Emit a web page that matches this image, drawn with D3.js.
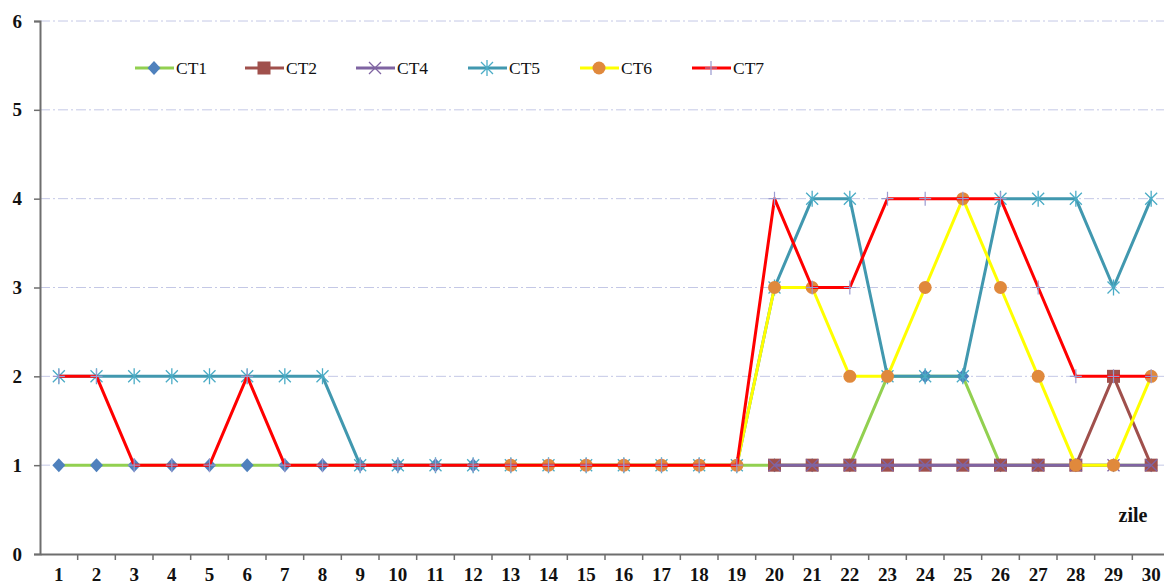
<!DOCTYPE html>
<html lang="en">
  <head>
    <title>CT chart</title>
    <meta charset="UTF-8">
    <script src="https://d3js.org/d3.v7.min.js"></script>
    <style>
      * { margin: 0; padding: 0; }
      body { background: white; }
      svg { display: block; }
      text { font-family: 'Liberation Serif', 'Times New Roman', serif; }
    </style>
  </head>
  <body>
    <script>
      const days = d3.range(1, 31)
      const yTicks = [0, 1, 2, 3, 4, 5, 6]

      // null = no value for that day
      const ct1 = [1,1,1,1,1,1,1,1,1,1,1,1,1,1,1,1,1,1,1,1,1,1,2,2,2,1,1,1,1,1]
      const ct2 = [null,null,null,null,null,null,null,null,null,null,null,null,null,null,null,null,null,null,null,1,1,1,1,1,1,1,1,1,2,1]
      const ct4 = [null,null,null,null,null,null,null,null,null,null,null,null,null,null,null,null,null,null,null,1,1,1,1,1,1,1,1,1,1,1]
      const ct5 = [2,2,2,2,2,2,2,2,1,1,1,1,1,1,1,1,1,1,1,3,4,4,2,2,2,4,4,4,3,4]
      const ct6 = [null,null,null,null,null,null,null,null,null,null,null,null,1,1,1,1,1,1,1,3,3,2,2,3,4,3,2,1,1,2]
      const ct7 = [2,2,1,1,1,2,1,1,1,1,1,1,1,1,1,1,1,1,1,4,3,3,4,4,4,4,3,2,2,2]

      const series = [
        {name: 'CT1', values: ct1, line: '#92d050', marker: 'diamond', fill: '#4f81bd'},
        {name: 'CT2', values: ct2, line: '#a0504c', marker: 'square', fill: '#a0504c'},
        {name: 'CT4', values: ct4, line: '#7f64a2', marker: 'cross', fill: '#7f64a2'},
        {name: 'CT5', values: ct5, line: '#4198af', marker: 'star', fill: '#4bacc6'},
        {name: 'CT6', values: ct6, line: '#ffff00', marker: 'circle', fill: '#e0893c'},
        {name: 'CT7', values: ct7, line: '#ff0000', marker: 'plus', fill: '#9a9ad0'}
      ]

      const width = 1164
      const height = 587
      const plotLeft = 40
      const plotRight = 1170
      const plotTop = 21
      const plotBottom = 554

      const xScale = d3.scaleBand().domain(days).range([plotLeft, plotRight])
      const yScale = d3.scaleLinear().domain([0, 6]).range([plotBottom, plotTop])
      const cx = (d) => xScale(d) + xScale.bandwidth() / 2

      const svg = d3.select('body')
                    .append('svg')
                    .attr('width', width)
                    .attr('height', height)

      // gridlines
      svg.append('g')
         .selectAll('line')
         .data(yTicks.filter((t) => t > 0))
         .enter()
         .append('line')
         .attr('x1', plotLeft)
         .attr('x2', plotRight)
         .attr('y1', (d) => yScale(d))
         .attr('y2', (d) => yScale(d))
         .attr('stroke', '#c4c8e6')
         .attr('stroke-width', 1)
         .attr('stroke-dasharray', '10,3,2,3')

      // axes
      const yAxis = d3.axisLeft(yScale).tickValues(yTicks).tickSize(6).tickFormat(d3.format('d'))
      const yg = svg.append('g')
                    .attr('transform', 'translate(' + plotLeft + ',0)')
                    .call(yAxis)
      yg.attr('font-family', null)
      yg.select('.domain').attr('stroke', '#6e6e6e').attr('stroke-width', 2)
      yg.selectAll('.tick line').attr('stroke', '#6e6e6e').attr('stroke-width', 1.5)
      yg.selectAll('.tick text')
        .attr('x', -18)
        .attr('font-size', 19)
        .attr('font-weight', 'bold')
        .attr('fill', '#111')

      const xAxis = d3.axisBottom(xScale).tickSize(0).tickPadding(14)
      const xg = svg.append('g')
                    .attr('transform', 'translate(0,' + plotBottom + ')')
                    .call(xAxis)
      xg.attr('font-family', null)
      xg.select('.domain').attr('stroke', '#6e6e6e').attr('stroke-width', 2)
      xg.selectAll('.tick text')
        .attr('font-size', 19)
        .attr('font-weight', 'bold')
        .attr('fill', '#111')
      // tick marks between categories
      xg.append('g')
        .selectAll('line')
        .data(days)
        .enter()
        .append('line')
        .attr('x1', (d) => xScale(d) + xScale.bandwidth())
        .attr('x2', (d) => xScale(d) + xScale.bandwidth())
        .attr('y1', 0)
        .attr('y2', 6)
        .attr('stroke', '#6e6e6e')
        .attr('stroke-width', 1.5)

      svg.append('text')
         .text('zile')
         .attr('x', 1133)
         .attr('y', 522)
         .attr('text-anchor', 'middle')
         .attr('font-size', 20)
         .attr('font-weight', 'bold')
         .attr('fill', '#111')

      function drawMarker(g, s, x, y) {
        if (s.marker === 'diamond') {
          g.append('path').attr('d', `M${x},${y-7}L${x+6.5},${y}L${x},${y+7}L${x-6.5},${y}Z`).attr('fill', s.fill)
        } else if (s.marker === 'square') {
          g.append('rect').attr('x', x-6.5).attr('y', y-6.5).attr('width', 13).attr('height', 13).attr('fill', s.fill)
        } else if (s.marker === 'circle') {
          g.append('circle').attr('cx', x).attr('cy', y).attr('r', 6.5).attr('fill', s.fill)
        } else if (s.marker === 'cross') {
          g.append('path').attr('d', `M${x-6},${y-6}L${x+6},${y+6}M${x-6},${y+6}L${x+6},${y-6}`)
           .attr('stroke', s.fill).attr('stroke-width', 1.3).attr('fill', 'none')
        } else if (s.marker === 'star') {
          g.append('path').attr('d', `M${x-6},${y-6}L${x+6},${y+6}M${x-6},${y+6}L${x+6},${y-6}M${x},${y-8}L${x},${y+8}`)
           .attr('stroke', s.fill).attr('stroke-width', 1.3).attr('fill', 'none')
        } else if (s.marker === 'plus') {
          g.append('path').attr('d', `M${x-6},${y}L${x+6},${y}M${x},${y-7}L${x},${y+7}`)
           .attr('stroke', s.fill).attr('stroke-width', 1.2).attr('fill', 'none')
        }
      }

      const line = d3.line()
                     .defined((d) => d.v !== null)
                     .x((d) => cx(d.day))
                     .y((d) => yScale(d.v))

      series.forEach((s) => {
        const pts = days.map((day, i) => ({day: day, v: s.values[i]}))
        const g = svg.append('g')
        g.append('path')
         .datum(pts)
         .attr('d', line)
         .attr('fill', 'none')
         .attr('stroke', s.line)
         .attr('stroke-width', 3)
         .attr('stroke-linejoin', 'round')
        pts.filter((d) => d.v !== null).forEach((d) => drawMarker(g, s, cx(d.day), yScale(d.v)))
      })

      // legend
      const legendX = [135, 245, 356, 468, 580, 692]
      series.forEach((s, i) => {
        const g = svg.append('g')
        const x0 = legendX[i]
        g.append('line')
         .attr('x1', x0).attr('x2', x0 + 39)
         .attr('y1', 68).attr('y2', 68)
         .attr('stroke', s.line).attr('stroke-width', 3)
        drawMarker(g, s, x0 + 19, 68)
        g.append('text')
         .text(s.name)
         .attr('x', x0 + 41)
         .attr('y', 74)
         .attr('font-size', 17.5)
         .attr('fill', '#111')
      })
    </script>
  </body>
</html>
